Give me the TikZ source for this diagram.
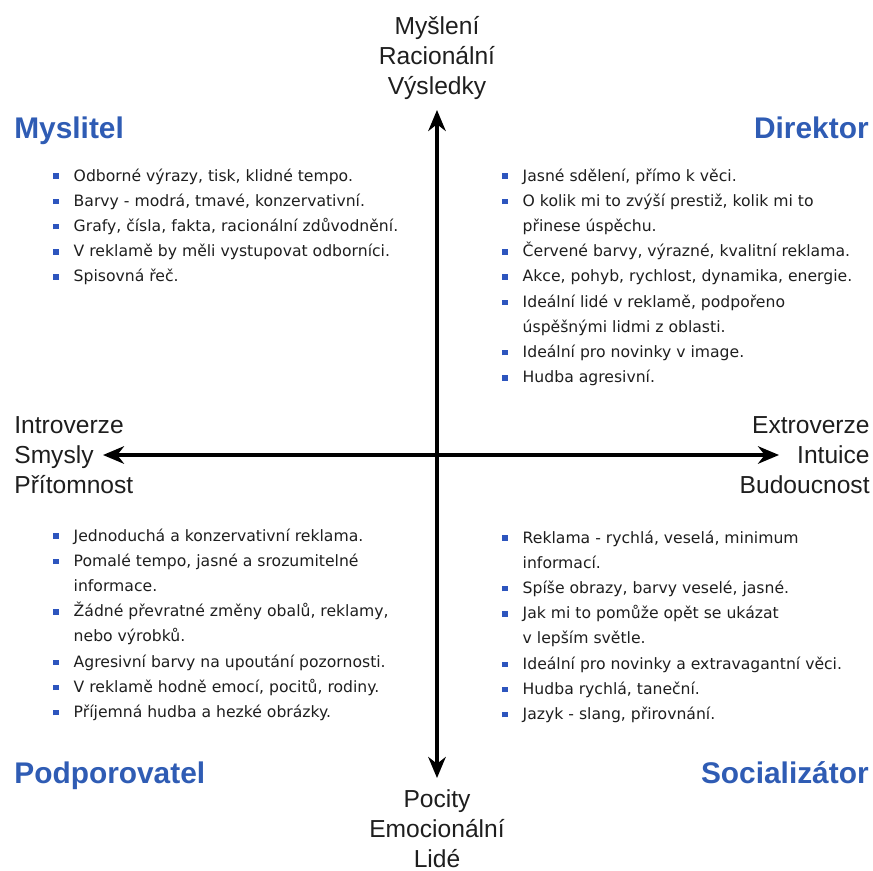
\documentclass[tikz,border=0pt]{standalone}
\usepackage{fontspec}
\setmainfont{Liberation Sans}
\newfontfamily\listfont{DejaVu Sans}
\usetikzlibrary{arrows.meta}
\definecolor{titleblue}{RGB}{47,92,180}
\definecolor{bulletblue}{RGB}{45,85,190}
\definecolor{labelgray}{RGB}{30,30,30}
\newcommand{\bod}{\textcolor{bulletblue}{\rule[1.2pt]{3.1pt}{3.1pt}}}

\begin{document}
\begin{tikzpicture}[x=0.02cm,y=-0.02cm,
	osa/.style={{Stealth[length=12pt,width=10pt]}-{Stealth[length=12pt,width=10pt]},line width=1.8pt},
	popis/.style={inner sep=0pt,text=labelgray,font=\fontsize{14}{17}\selectfont},
	typ/.style={inner sep=0pt,text=titleblue,font=\fontsize{17}{20}\selectfont\bfseries},
	seznam/.style={inner sep=0pt,anchor=base west,text=labelgray,font=\listfont\fontsize{8.9}{14.35}\selectfont}]
	\useasboundingbox (0,0) rectangle (873,870);

	% osy
	\coordinate (sever)	at	(437,110);
	\coordinate (jih)	at	(437,778);
	\coordinate (zapad)	at	(103,455);
	\coordinate (vychod)	at	(779,455);
	\draw[osa] (jih) -- (sever);
	\draw[osa] (zapad) -- (vychod);

	\node 	(nahore)	at	(437,58) 	[popis,align=center]{Myšlení\\Racionální\\Výsledky};
	\node 	(dole)		at	(437,829) 	[popis,align=center]{Pocity\\Emocionální\\Lidé};
	\node 	(vlevo)		at	(14,455) 	[popis,anchor=west,align=left]{Introverze\\Smysly\\Přítomnost};
	\node 	(vpravo)	at	(870,455) 	[popis,anchor=east,align=right]{Extroverze\\Intuice\\Budoucnost};

	% typy
	\node 	(myslitel)	at	(14,131) 	[typ,anchor=west]{Myslitel};
	\node 	(direktor)	at	(869,128) 	[typ,anchor=east]{Direktor};
	\node 	(podporovatel)	at	(14,776) 	[typ,anchor=west]{Podporovatel};
	\node 	(socializator)	at	(869,773) 	[typ,anchor=east]{Socializátor};

	% seznamy
	\node 	(sezA)	at	(53,181) 	[seznam]{\begin{tabular}[t]{@{}l@{\hspace{8.5pt}}l@{}}
		\bod & Odborné výrazy, tisk, klidné tempo.\\
		\bod & Barvy - modrá, tmavé, konzervativní.\\
		\bod & Grafy, čísla, fakta, racionální zdůvodnění.\\
		\bod & V reklamě by měli vystupovat odborníci.\\
		\bod & Spisovná řeč.
	\end{tabular}};

	\node 	(sezB)	at	(502,181) 	[seznam]{\begin{tabular}[t]{@{}l@{\hspace{8.5pt}}l@{}}
		\bod & Jasné sdělení, přímo k věci.\\
		\bod & O kolik mi to zvýší prestiž, kolik mi to\\
		     & přinese úspěchu.\\
		\bod & Červené barvy, výrazné, kvalitní reklama.\\
		\bod & Akce, pohyb, rychlost, dynamika, energie.\\
		\bod & Ideální lidé v reklamě, podpořeno\\
		     & úspěšnými lidmi z oblasti.\\
		\bod & Ideální pro novinky v image.\\
		\bod & Hudba agresivní.
	\end{tabular}};

	\node 	(sezC)	at	(53,541) 	[seznam]{\begin{tabular}[t]{@{}l@{\hspace{8.5pt}}l@{}}
		\bod & Jednoduchá a konzervativní reklama.\\
		\bod & Pomalé tempo, jasné a srozumitelné\\
		     & informace.\\
		\bod & Žádné převratné změny obalů, reklamy,\\
		     & nebo výrobků.\\
		\bod & Agresivní barvy na upoutání pozornosti.\\
		\bod & V reklamě hodně emocí, pocitů, rodiny.\\
		\bod & Příjemná hudba a hezké obrázky.
	\end{tabular}};

	\node 	(sezD)	at	(502,543) 	[seznam]{\begin{tabular}[t]{@{}l@{\hspace{8.5pt}}l@{}}
		\bod & Reklama - rychlá, veselá, minimum\\
		     & informací.\\
		\bod & Spíše obrazy, barvy veselé, jasné.\\
		\bod & Jak mi to pomůže opět se ukázat\\
		     & v lepším světle.\\
		\bod & Ideální pro novinky a extravagantní věci.\\
		\bod & Hudba rychlá, taneční.\\
		\bod & Jazyk - slang, přirovnání.
	\end{tabular}};

\end{tikzpicture}
\end{document}
